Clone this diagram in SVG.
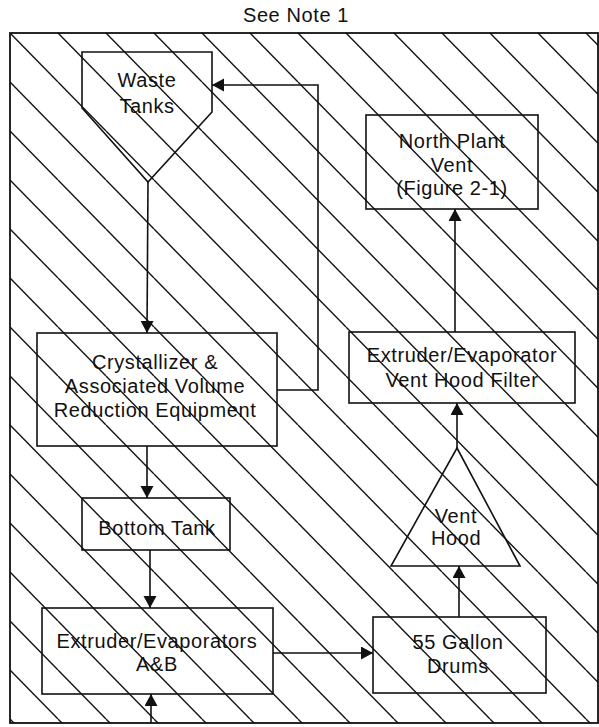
<svg xmlns="http://www.w3.org/2000/svg" width="599" height="727" viewBox="0 0 599 727">
<style>
  .t { font-family: "Liberation Sans", Arial, sans-serif; font-size: 20px; fill: #111; text-anchor: middle; letter-spacing: 0.6px; }
  .box { fill: none; stroke: #111; stroke-width: 1.6; }
  .conn { fill: none; stroke: #111; stroke-width: 1.6; }
  .hatch { stroke: #111; stroke-width: 1.4; }
</style>
<defs>
  <pattern id="hatchPat" patternUnits="userSpaceOnUse" x="10" y="33" width="48" height="49">
    <line class="hatch" x1="0" y1="0" x2="48" y2="49"/>
    <line class="hatch" x1="-48" y1="0" x2="0" y2="49"/>
    <line class="hatch" x1="48" y1="0" x2="96" y2="49"/>
  </pattern>
  <marker id="arr" markerUnits="userSpaceOnUse" markerWidth="14" markerHeight="14" refX="12" refY="6.5" orient="auto">
    <path d="M0,0 L12,6.5 L0,13 z" fill="#111"/>
  </marker>
</defs>
<rect width="599" height="727" fill="#fff"/>
<text class="t" x="296" y="22">See Note 1</text>
<g id="frame">
  <rect x="10" y="33" width="588" height="690" fill="url(#hatchPat)" stroke="#111" stroke-width="1.8"/>
</g>
<g id="connectors">
  <polyline class="conn" points="148,182 147,333" marker-end="url(#arr)"/>
  <polyline class="conn" points="277,390 318,390 318,85 212,85" marker-end="url(#arr)"/>
  <polyline class="conn" points="147,446 147,498" marker-end="url(#arr)"/>
  <polyline class="conn" points="150,550 150,608" marker-end="url(#arr)"/>
  <polyline class="conn" points="151,723 151,694" marker-end="url(#arr)"/>
  <polyline class="conn" points="273,653 373,653" marker-end="url(#arr)"/>
  <polyline class="conn" points="459,617 459,566" marker-end="url(#arr)"/>
  <polyline class="conn" points="457,448 457,403" marker-end="url(#arr)"/>
  <polyline class="conn" points="455,332 455,209" marker-end="url(#arr)"/>
</g>
<g id="waste-tanks">
  <polygon class="box" points="82,52 212,52 212,112 148,182 82,108"/>
  <text class="t" x="147" y="87">Waste</text>
  <text class="t" x="147" y="113">Tanks</text>
</g>
<g id="crystallizer">
  <rect class="box" x="37" y="333" width="240" height="113"/>
  <text class="t" x="155" y="369">Crystallizer &amp;</text>
  <text class="t" x="155" y="393">Associated Volume</text>
  <text class="t" x="155" y="417">Reduction Equipment</text>
</g>
<g id="bottom-tank">
  <rect class="box" x="82" y="498" width="148" height="52"/>
  <text class="t" x="157" y="535">Bottom Tank</text>
</g>
<g id="extruder-ab">
  <rect class="box" x="42" y="608" width="231" height="86"/>
  <text class="t" x="157" y="648">Extruder/Evaporators</text>
  <text class="t" x="157" y="671">A&amp;B</text>
</g>
<g id="drums">
  <rect class="box" x="373" y="617" width="173" height="76"/>
  <text class="t" x="458" y="649">55 Gallon</text>
  <text class="t" x="458" y="673">Drums</text>
</g>
<g id="vent-hood">
  <polygon class="box" points="457,448 520,566 391,566"/>
  <text class="t" x="456" y="523">Vent</text>
  <text class="t" x="456" y="545">Hood</text>
</g>
<g id="vent-hood-filter">
  <rect class="box" x="349" y="332" width="226" height="71"/>
  <text class="t" x="462" y="362">Extruder/Evaporator</text>
  <text class="t" x="462" y="387">Vent Hood Filter</text>
</g>
<g id="north-plant-vent">
  <rect class="box" x="366" y="115" width="172" height="94"/>
  <text class="t" x="452" y="148">North Plant</text>
  <text class="t" x="452" y="172">Vent</text>
  <text class="t" x="452" y="195">(Figure 2-1)</text>
</g>
</svg>
